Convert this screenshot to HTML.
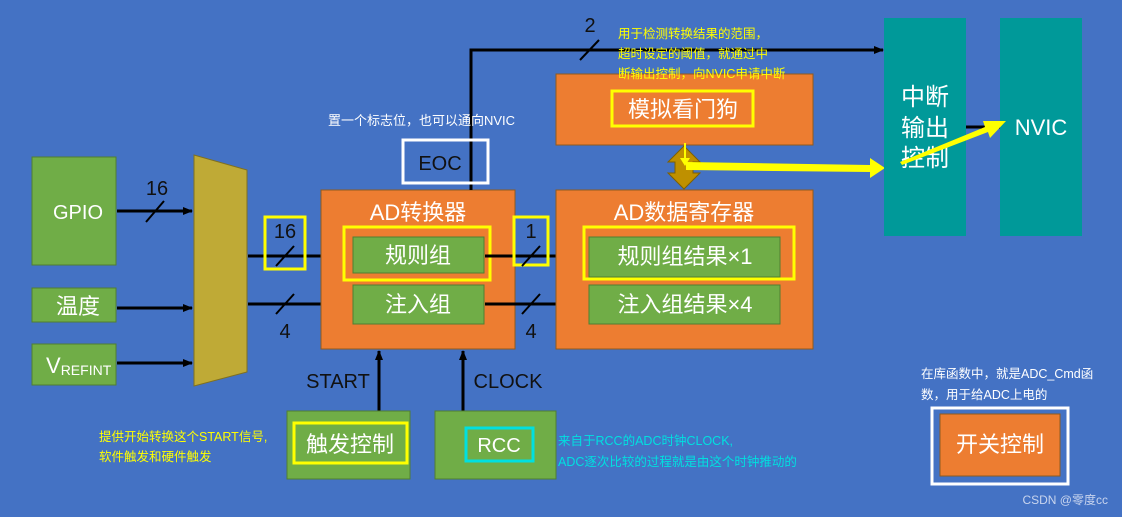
<!DOCTYPE html>
<html><head><meta charset="utf-8"><style>
html,body{margin:0;padding:0;background:#4472C4;}
svg{display:block}
text{font-family:"Liberation Sans","Noto Sans CJK SC",sans-serif;}
</style></head><body>
<svg width="1122" height="517" viewBox="0 0 1122 517" xmlns="http://www.w3.org/2000/svg">
<defs>
<marker id="ah" markerWidth="10" markerHeight="8" refX="9" refY="4" orient="auto" markerUnits="userSpaceOnUse"><path d="M0,0 L10,4 L0,8 z" fill="#000"/></marker>
</defs>
<rect width="1122" height="517" fill="#4472C4"/>
<!-- inputs -->
<rect x="32" y="157" width="84" height="108" fill="#70AD47" stroke="#507E32"/>
<text x="78" y="219" font-size="20" fill="#fff" text-anchor="middle">GPIO</text>
<rect x="32" y="288" width="84" height="34" fill="#70AD47" stroke="#507E32"/>
<text x="78" y="314" font-size="22" fill="#fff" text-anchor="middle">温度</text>
<rect x="32" y="344" width="84" height="41" fill="#70AD47" stroke="#507E32"/>
<text x="46" y="373" font-size="22" fill="#fff">V<tspan font-size="14" dy="2">REFINT</tspan></text>
<!-- mux -->
<polygon points="194,155 247,170 247,372 194,386" fill="#BFAA36" stroke="#7F7020"/>
<line x1="117" y1="211" x2="192" y2="211" stroke="#000" stroke-width="3" marker-end="url(#ah)"/>
<line x1="117" y1="308" x2="192" y2="308" stroke="#000" stroke-width="3" marker-end="url(#ah)"/>
<line x1="117" y1="363" x2="192" y2="363" stroke="#000" stroke-width="3" marker-end="url(#ah)"/>
<text x="157" y="195" font-size="20" fill="#111" text-anchor="middle">16</text>
<line x1="146" y1="222" x2="164" y2="201" stroke="#000" stroke-width="2"/>
<line x1="248" y1="256" x2="351" y2="256" stroke="#000" stroke-width="3" marker-end="url(#ah)"/>
<line x1="248" y1="304" x2="351" y2="304" stroke="#000" stroke-width="3" marker-end="url(#ah)"/>
<rect x="265" y="217" width="40" height="52" fill="none" stroke="#FFFF00" stroke-width="3"/>
<text x="285" y="238" font-size="20" fill="#111" text-anchor="middle">16</text>
<line x1="276" y1="266" x2="294" y2="246" stroke="#000" stroke-width="2"/>
<line x1="276" y1="314" x2="294" y2="294" stroke="#000" stroke-width="2"/>
<text x="285" y="338" font-size="20" fill="#111" text-anchor="middle">4</text>
<!-- AD converter -->
<rect x="321" y="190" width="194" height="159" fill="#ED7D31" stroke="#8F5A1E"/>
<text x="418" y="220" font-size="22" fill="#fff" text-anchor="middle">AD转换器</text>
<rect x="353" y="237" width="131" height="36" fill="#70AD47" stroke="#507E32"/>
<rect x="344" y="227" width="146" height="53" fill="none" stroke="#FFFF00" stroke-width="3"/>
<text x="418" y="263" font-size="22" fill="#fff" text-anchor="middle">规则组</text>
<rect x="353" y="285" width="131" height="39" fill="#70AD47" stroke="#507E32"/>
<text x="418" y="312" font-size="22" fill="#fff" text-anchor="middle">注入组</text>
<line x1="485" y1="256" x2="587" y2="256" stroke="#000" stroke-width="3" marker-end="url(#ah)"/>
<line x1="485" y1="304" x2="587" y2="304" stroke="#000" stroke-width="3" marker-end="url(#ah)"/>
<rect x="514" y="217" width="34" height="48" fill="none" stroke="#FFFF00" stroke-width="3"/>
<text x="531" y="238" font-size="20" fill="#111" text-anchor="middle">1</text>
<line x1="522" y1="266" x2="540" y2="246" stroke="#000" stroke-width="2"/>
<line x1="522" y1="314" x2="540" y2="294" stroke="#000" stroke-width="2"/>
<text x="531" y="338" font-size="20" fill="#111" text-anchor="middle">4</text>
<!-- EOC -->
<polyline points="471,190 471,50 883,50" fill="none" stroke="#000" stroke-width="3" marker-end="url(#ah)"/>
<rect x="403" y="140" width="85" height="43" fill="none" stroke="#fff" stroke-width="3"/>
<text x="440" y="170" font-size="20" fill="#111" text-anchor="middle">EOC</text>
<text x="328" y="125" font-size="13" fill="#fff">置一个标志位，也可以通向NVIC</text>
<text x="590" y="32" font-size="20" fill="#111" text-anchor="middle">2</text>
<line x1="580" y1="60" x2="599" y2="40" stroke="#000" stroke-width="2"/>
<!-- watchdog -->
<rect x="556" y="74" width="257" height="71" fill="#ED7D31" stroke="#8F5A1E"/>
<text font-size="12.5" fill="#FFFF00"><tspan x="618" y="38">用于检测转换结果的范围，</tspan><tspan x="618" y="58">超时设定的阈值，就通过中</tspan><tspan x="618" y="78">断输出控制，向NVIC申请中断</tspan></text>
<rect x="612" y="91" width="141" height="35" fill="none" stroke="#FFFF00" stroke-width="3"/>
<text x="683" y="117" font-size="22" fill="#fff" text-anchor="middle">模拟看门狗</text>
<!-- double arrow -->
<polygon points="684,146 700,162 693,162 693,173 700,173 684,189 668,173 675,173 675,162 668,162" fill="#BF9000" stroke="#7F6000"/>
<line x1="688" y1="167" x2="760" y2="168" stroke="#000" stroke-width="3"/>
<polygon points="686,162 870,165 870,158 885,168 870,178 870,172 686,170" fill="#FFFF00"/>
<polygon points="684,143 686,143 686,158 690,158 685,166 680,158 684,158" fill="#FFFF00"/>
<!-- data reg -->
<rect x="556" y="190" width="257" height="159" fill="#ED7D31" stroke="#8F5A1E"/>
<text x="684" y="220" font-size="22" fill="#fff" text-anchor="middle">AD数据寄存器</text>
<rect x="589" y="237" width="191" height="40" fill="#70AD47" stroke="#507E32"/>
<rect x="584" y="227" width="210" height="52" fill="none" stroke="#FFFF00" stroke-width="3"/>
<text x="685" y="264" font-size="22" fill="#fff" text-anchor="middle">规则组结果×1</text>
<rect x="589" y="285" width="191" height="39" fill="#70AD47" stroke="#507E32"/>
<text x="685" y="312" font-size="22" fill="#fff" text-anchor="middle">注入组结果×4</text>
<!-- interrupt -->
<rect x="884" y="18" width="82" height="218" fill="#009999"/>
<text font-size="24" fill="#fff" text-anchor="middle"><tspan x="925" y="105">中断</tspan><tspan x="925" y="136">输出</tspan><tspan x="925" y="166">控制</tspan></text>
<rect x="1000" y="18" width="82" height="218" fill="#009999"/>
<text x="1041" y="135" font-size="22" fill="#fff" text-anchor="middle">NVIC</text>
<line x1="966" y1="127" x2="1000" y2="127" stroke="#000" stroke-width="3"/>
<polygon points="900,162 985,127 983,121 1006,121 990,138 988,132 902,165" fill="#FFFF00"/>
<!-- bottom -->
<line x1="379" y1="411" x2="379" y2="351" stroke="#000" stroke-width="3" marker-end="url(#ah)"/>
<line x1="463" y1="411" x2="463" y2="351" stroke="#000" stroke-width="3" marker-end="url(#ah)"/>
<text x="338" y="388" font-size="20" fill="#111" text-anchor="middle">START</text>
<text x="508" y="388" font-size="20" fill="#111" text-anchor="middle">CLOCK</text>
<rect x="287" y="411" width="123" height="68" fill="#70AD47" stroke="#507E32"/>
<rect x="294" y="423" width="113" height="40" fill="none" stroke="#FFFF00" stroke-width="3"/>
<text x="350" y="452" font-size="22" fill="#fff" text-anchor="middle">触发控制</text>
<rect x="435" y="411" width="121" height="68" fill="#70AD47" stroke="#507E32"/>
<rect x="466" y="428" width="67" height="33" fill="none" stroke="#00E0E0" stroke-width="3"/>
<text x="499" y="452" font-size="20" fill="#fff" text-anchor="middle">RCC</text>
<text font-size="12.5" fill="#FFFF00"><tspan x="99" y="441">提供开始转换这个START信号,</tspan><tspan x="99" y="461">软件触发和硬件触发</tspan></text>
<text font-size="12.5" fill="#00E0E0"><tspan x="558" y="445">来自于RCC的ADC时钟CLOCK,</tspan><tspan x="558" y="466">ADC逐次比较的过程就是由这个时钟推动的</tspan></text>
<text font-size="12.5" fill="#fff"><tspan x="921" y="378">在库函数中，就是ADC_Cmd函</tspan><tspan x="921" y="399">数，用于给ADC上电的</tspan></text>
<rect x="932" y="408" width="136" height="76" fill="none" stroke="#fff" stroke-width="3"/>
<rect x="940" y="414" width="120" height="62" fill="#ED7D31" stroke="#8F5A1E"/>
<text x="1000" y="452" font-size="22" fill="#fff" text-anchor="middle">开关控制</text>
<text x="1108" y="504" font-size="12" fill="#C8D4EE" text-anchor="end">CSDN @零度cc</text>
</svg>
</body></html>
